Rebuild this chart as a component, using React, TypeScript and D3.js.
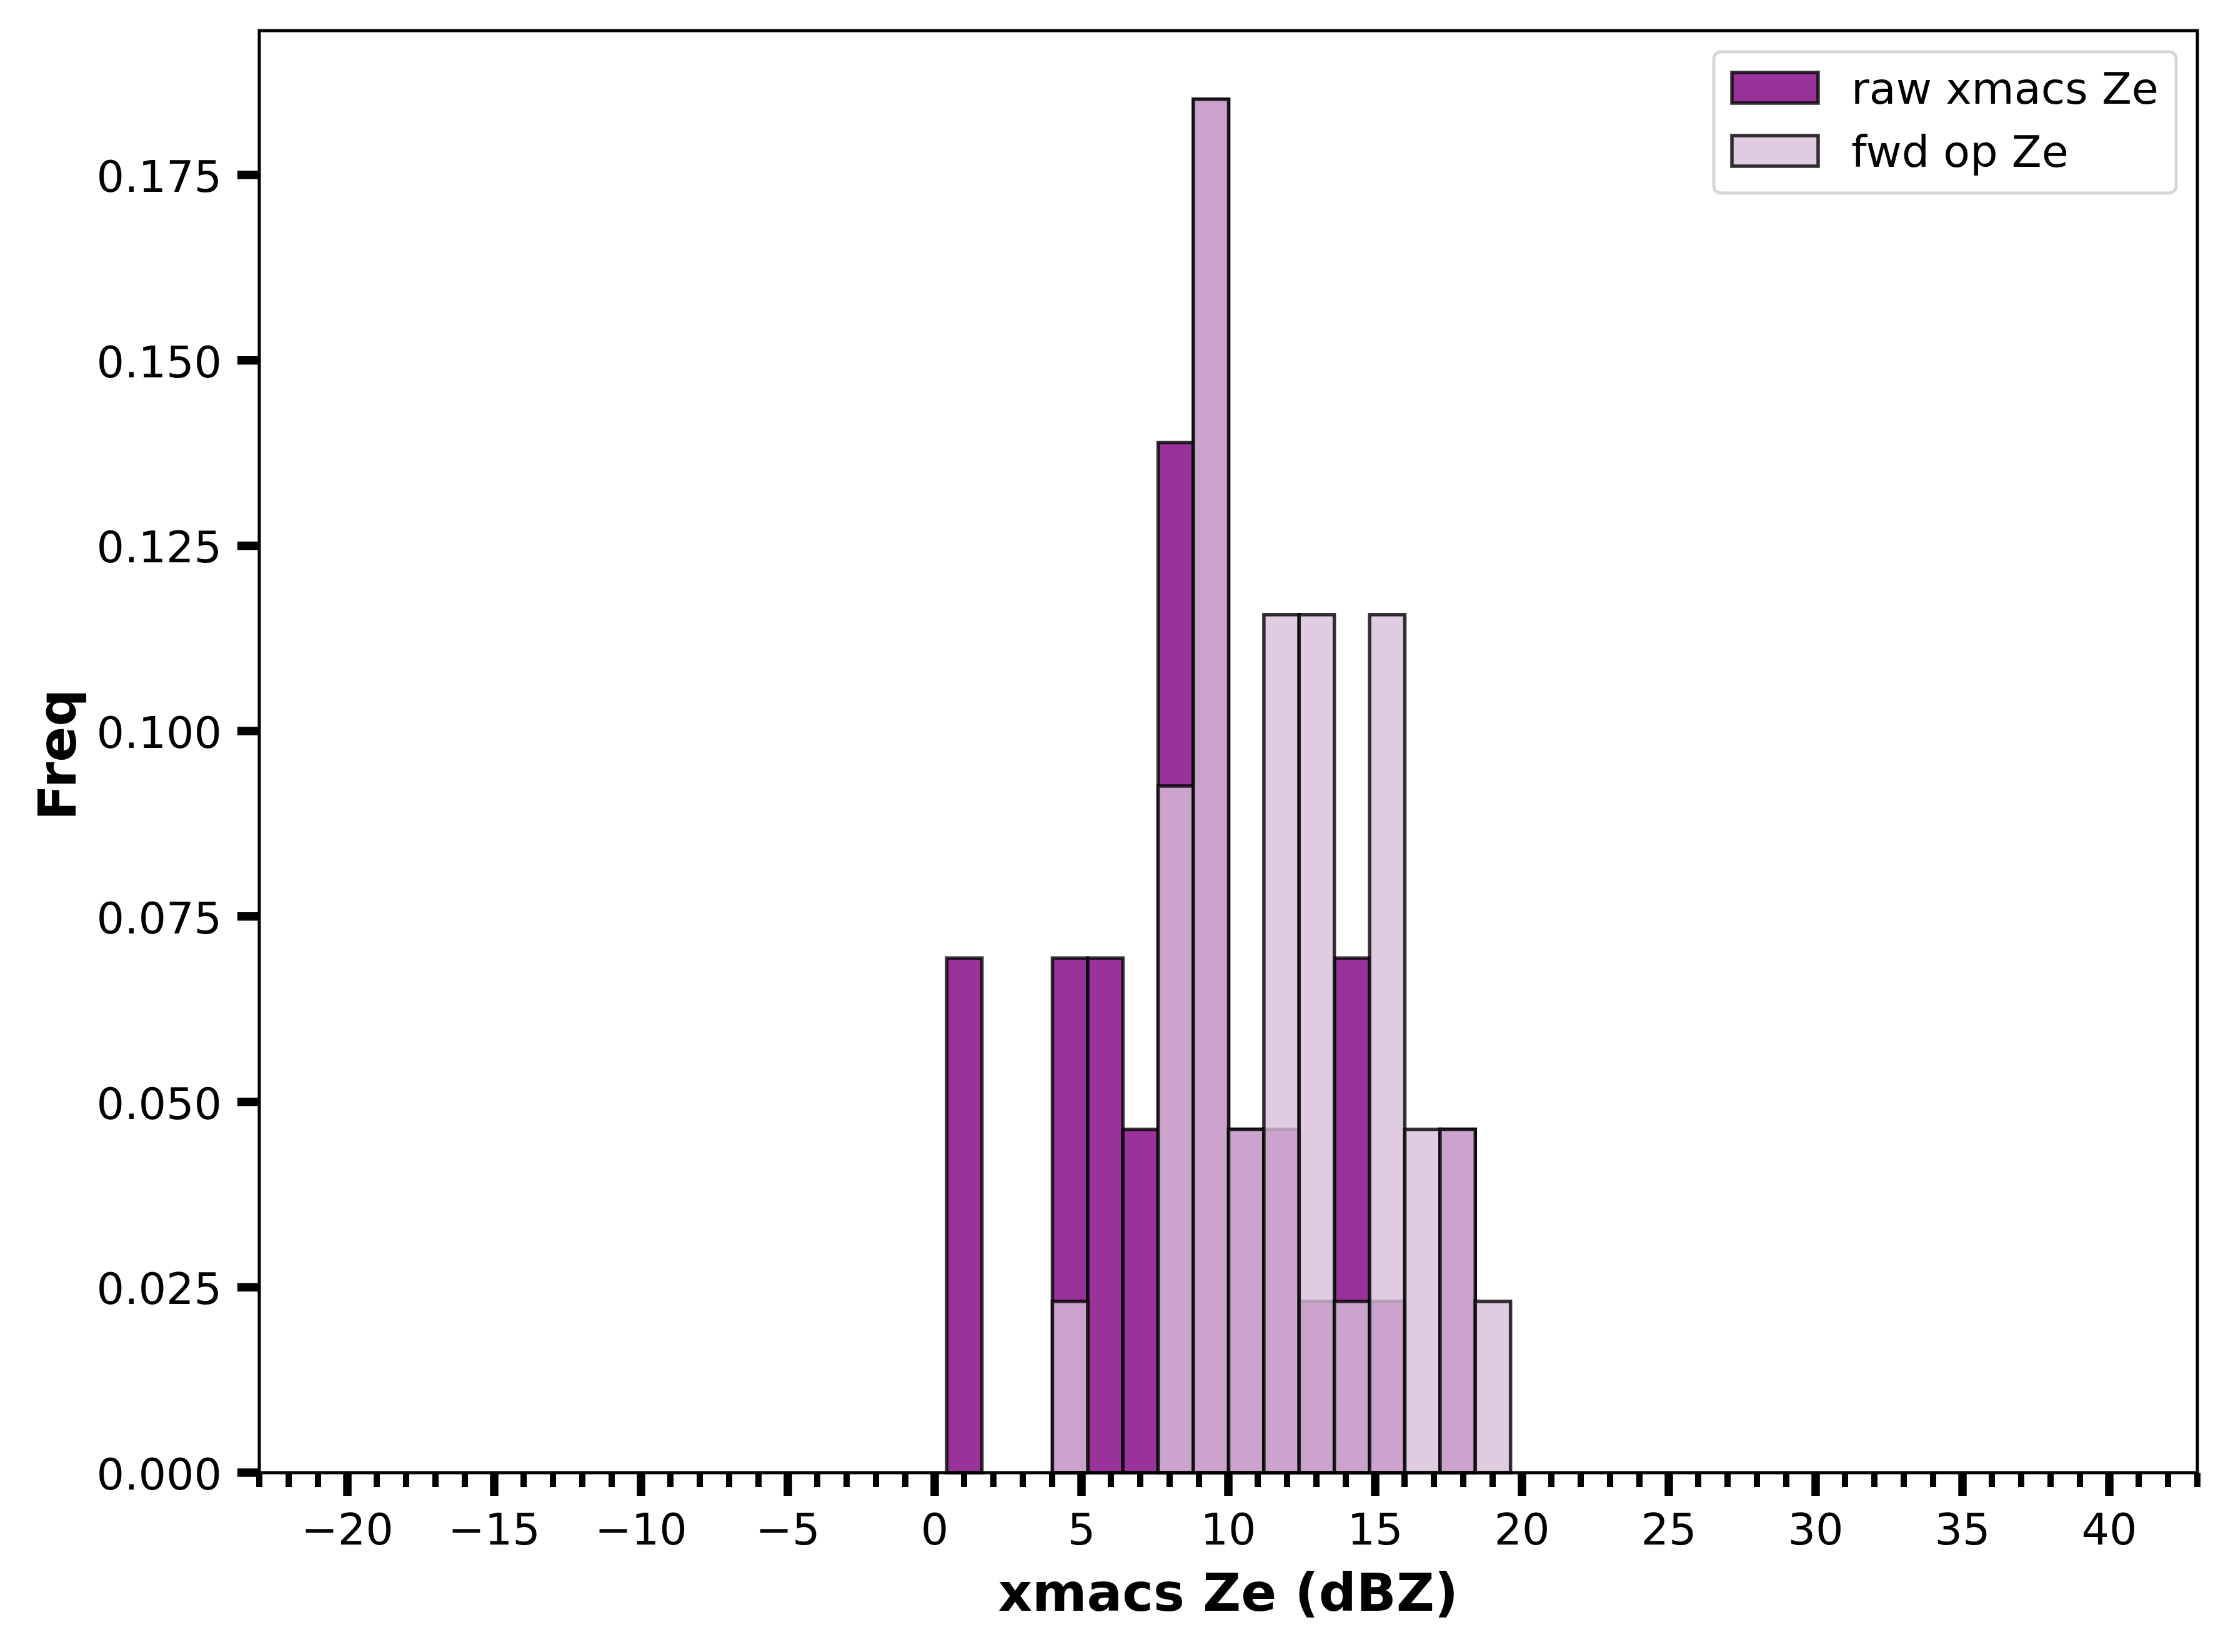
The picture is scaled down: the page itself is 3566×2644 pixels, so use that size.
import React from "react";
import * as d3 from "d3";

// ---- data ----
const binEdges = [0.41, 1.61, 2.81, 4.01, 5.21, 6.41, 7.61, 8.81, 10.01, 11.21, 12.41, 13.61, 14.81, 16.01, 17.21, 18.41, 19.61];
const rawFreq = [0.0694, 0, 0, 0.0694, 0.0694, 0.0463, 0.1389, 0.1852, 0.0463, 0.0463, 0.0231, 0.0694, 0.0231, 0, 0.0463, 0];
const fwdFreq = [0, 0, 0, 0.0231, 0, 0, 0.0926, 0.1852, 0.0463, 0.1157, 0.1157, 0.0231, 0.1157, 0.0463, 0.0463, 0.0231];
const seriesNames = ["raw xmacs Ze", "fwd op Ze"];
const xMajorTicks = [-20, -15, -10, -5, 0, 5, 10, 15, 20, 25, 30, 35, 40];
const yTicks = [0, 0.025, 0.05, 0.075, 0.1, 0.125, 0.15, 0.175];
const xDomain = [-23, 43];
const xLabel = "xmacs Ze (dBZ)";
const yLabel = "Freq";

const W = 3566;
const H = 2644;
const FONT = "DejaVu Sans";

export default function App() {
  const left = 415, right = 3517, top = 49, bottom = 2357;
  const yMax = d3.max([...rawFreq, ...fwdFreq]) as number * 1.05;
  const x = d3.scaleLinear().domain(xDomain).range([left, right]);
  const y = d3.scaleLinear().domain([0, yMax]).range([bottom, top]);

  const minorTicks = d3.range(xDomain[0], xDomain[1] + 1).filter((v) => v % 5 !== 0);

  const bars = (freqs: number[], fill: string, key: string) =>
    freqs.map((f, i) =>
      f > 0 ? (
        <rect
          key={key + i}
          x={x(binEdges[i])}
          y={y(f)}
          width={x(binEdges[i + 1]) - x(binEdges[i])}
          height={y(0) - y(f)}
          fill={fill}
          fillOpacity={0.8}
          stroke="#000"
          strokeOpacity={0.8}
          strokeWidth={5.5}
        />
      ) : null
    );

  const fmtX = (v: number) => (v < 0 ? "\u2212" + Math.abs(v) : String(v));

  return (
    <svg
      width={W}
      height={H}
      viewBox={`0 0 ${W} ${H}`}
      style={{ position: "absolute", left: 0, top: 0, background: "#fff" }}
      fontFamily={FONT}
    >
      <rect x={0} y={0} width={W} height={H} fill="#fff" />
      {bars(rawFreq, "purple", "r")}
      {bars(fwdFreq, "thistle", "f")}

      {/* spines */}
      <rect x={left} y={top} width={right - left} height={bottom - top} fill="none" stroke="#000" strokeWidth={5} />

      {/* x minor ticks */}
      {minorTicks.map((v) => (
        <line key={"mn" + v} x1={x(v)} x2={x(v)} y1={bottom} y2={bottom + 23} stroke="#000" strokeWidth={10} />
      ))}
      {/* x major ticks */}
      {xMajorTicks.map((v) => (
        <g key={"mj" + v}>
          <line x1={x(v)} x2={x(v)} y1={bottom} y2={bottom + 37} stroke="#000" strokeWidth={13.5} />
          <text x={x(v)} y={2472} textAnchor="middle" fontSize={70} fill="#000">
            {fmtX(v)}
          </text>
        </g>
      ))}
      {/* y ticks */}
      {yTicks.map((v) => (
        <g key={"y" + v}>
          <line x1={left - 35} x2={left} y1={y(v)} y2={y(v)} stroke="#000" strokeWidth={13.5} />
          <text x={355} y={y(v) + 27} textAnchor="end" fontSize={70} fill="#000">
            {v.toFixed(3)}
          </text>
        </g>
      ))}

      {/* axis labels */}
      <text x={(left + right) / 2} y={2578} textAnchor="middle" fontSize={84} fontWeight="bold" fill="#000">
        {xLabel}
      </text>
      <text
        transform={`translate(121, ${(top + bottom) / 2 + 5}) rotate(-90)`}
        textAnchor="middle"
        fontSize={84}
        fontWeight="bold"
        fill="#000"
      >
        {yLabel}
      </text>

      {/* legend */}
      <g>
        <rect x={2743} y={83} width={740} height={226} rx={11} ry={11} fill="#fff" fillOpacity={0.8} stroke="#ccc" strokeOpacity={0.8} strokeWidth={5} />
        {seriesNames.map((name, i) => (
          <g key={name}>
            <rect
              x={2772}
              y={116 + i * 101}
              width={138}
              height={49}
              fill={i === 0 ? "purple" : "thistle"}
              fillOpacity={0.8}
              stroke="#000"
              strokeOpacity={0.8}
              strokeWidth={5.5}
            />
            <text x={2963} y={166 + i * 101} fontSize={70} fill="#000">
              {name}
            </text>
          </g>
        ))}
      </g>
    </svg>
  );
}
